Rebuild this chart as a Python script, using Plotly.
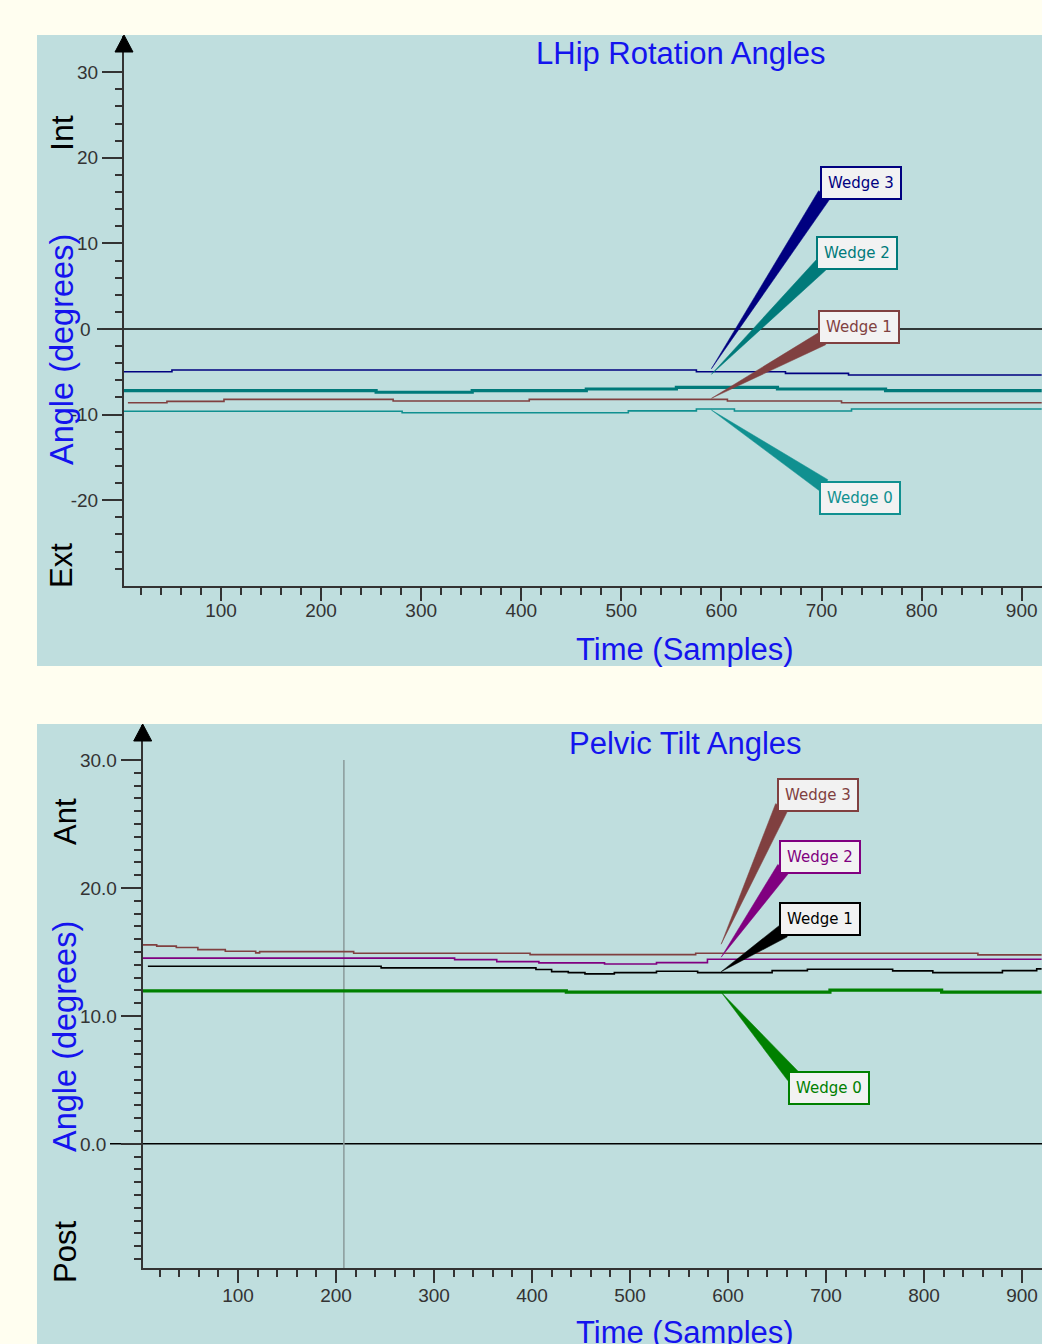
import numpy as np
import plotly.graph_objects as go

# ---------------- data ----------------
X_END = 920  # last sample visible

# LHip Rotation Angles: sample where each level starts, level (deg)
hip_w3_x = [3, 51, 575, 664, 727]
hip_w3_y = [-4.99, -4.79, -4.99, -5.18, -5.37]
hip_w2_x = [3, 255, 351, 465, 555, 656, 764]
hip_w2_y = [-7.21, -7.39, -7.21, -7.01, -6.81, -7.01, -7.21]
hip_w1_x = [7, 46, 103, 272, 408, 606, 720]
hip_w1_y = [-8.62, -8.45, -8.22, -8.41, -8.22, -8.41, -8.62]
hip_w0_x = [3, 281, 507, 575, 613, 730]
hip_w0_y = [-9.61, -9.78, -9.57, -9.35, -9.58, -9.35]

# Pelvic Tilt Angles
pel_w3_x = [3, 17, 37, 59, 87, 118, 122, 218, 398, 567, 855]
pel_w3_y = [15.55, 15.45, 15.34, 15.18, 15.05, 14.92, 15.02, 14.90, 14.79, 14.90, 14.77]
pel_w2_x = [3, 321, 364, 407, 474, 527, 579]
pel_w2_y = [14.51, 14.40, 14.24, 14.14, 14.06, 14.16, 14.43]
pel_w1_x = [8, 246, 404, 420, 437, 454, 484, 527, 569, 645, 681, 768, 809, 880, 915]
pel_w1_y = [13.88, 13.75, 13.62, 13.46, 13.38, 13.28, 13.38, 13.49, 13.38, 13.54,
            13.65, 13.52, 13.38, 13.54, 13.67]
pel_w0_x = [3, 435, 704, 818]
pel_w0_y = [11.95, 11.85, 12.01, 11.85]

CURSOR_SAMPLE = 208
CALLOUT_SAMPLE_TOP = 590
CALLOUT_SAMPLE_BOT = 593

x_tick_vals = [100, 200, 300, 400, 500, 600, 700, 800, 900]
x_tick_text = ["100", "200", "300", "400", "500", "600", "700", "800", "900"]
hip_tick_vals = [-20, -10, 0, 10, 20, 30]
hip_tick_text = ["-20", "-10", "0\u2009\u2009", "10", "20", "30"]
pel_tick_vals = [0, 10, 20, 30]
pel_tick_text = ["0.0\u2007", "10.0", "20.0", "30.0"]

# ---------------- layout constants ----------------
W, H = 1042, 1344
PAGE = "#FFFEF0"
PANEL = "#BFDEDE"
AX = "#333333"
BLUE = "#1414EE"

TOP = dict(xpx=(124.0, 1042.0), ypx=(36.0, 585.8), xr=(3.1, 920.3), yr=(-30.0, 34.23))
BOT = dict(xpx=(142.7, 1042.0), ypx=(725.0, 1268.0), xr=(2.7, 920.4), yr=(-9.7, 32.73))


def d2p(c, x, y):
    sx = (c["xpx"][1] - c["xpx"][0]) / (c["xr"][1] - c["xr"][0])
    sy = (c["ypx"][1] - c["ypx"][0]) / (c["yr"][1] - c["yr"][0])
    return c["xpx"][0] + (x - c["xr"][0]) * sx, c["ypx"][1] - (y - c["yr"][0]) * sy


def p2d(c, px, py):
    sx = (c["xpx"][1] - c["xpx"][0]) / (c["xr"][1] - c["xr"][0])
    sy = (c["ypx"][1] - c["ypx"][0]) / (c["yr"][1] - c["yr"][0])
    return c["xr"][0] + (px - c["xpx"][0]) / sx, c["yr"][0] + (c["ypx"][1] - py) / sy


def step_value(xs, ys, x):
    idx = np.searchsorted(np.array(xs), x, side="right") - 1
    return ys[max(idx, 0)]


fig = go.Figure()

# panels
fig.add_shape(type="rect", xref="paper", yref="paper", x0=37 / W, x1=1.0,
              y0=1 - 666 / H, y1=1 - 35 / H, fillcolor=PANEL, line_width=0, layer="below")
fig.add_shape(type="rect", xref="paper", yref="paper", x0=37 / W, x1=1.0,
              y0=0.0, y1=1 - 724 / H, fillcolor=PANEL, line_width=0, layer="below")


def add_series(xs, ys, color, width, xa, ya, name):
    fig.add_trace(go.Scatter(x=list(xs) + [X_END], y=list(ys) + [ys[-1]], mode="lines",
                             line=dict(color=color, width=width, shape="hv"),
                             xaxis=xa, yaxis=ya, name=name, showlegend=False,
                             hoverinfo="skip"))


top_series = [
    ("Wedge 3", hip_w3_x, hip_w3_y, "#000080", 1.6),
    ("Wedge 2", hip_w2_x, hip_w2_y, "#007A7A", 3.2),
    ("Wedge 1", hip_w1_x, hip_w1_y, "#804040", 1.6),
    ("Wedge 0", hip_w0_x, hip_w0_y, "#109090", 1.6),
]
bot_series = [
    ("Wedge 3", pel_w3_x, pel_w3_y, "#804040", 1.6),
    ("Wedge 2", pel_w2_x, pel_w2_y, "#800080", 1.6),
    ("Wedge 1", pel_w1_x, pel_w1_y, "#000000", 1.6),
    ("Wedge 0", pel_w0_x, pel_w0_y, "#008000", 3.2),
]
for name, xs, ys, col, w in top_series:
    add_series(xs, ys, col, w, "x", "y", name)
for name, xs, ys, col, w in bot_series:
    add_series(xs, ys, col, w, "x2", "y2", name)

# zero lines
fig.add_shape(type="line", xref="paper", yref="y", x0=97 / W, x1=1.0, y0=0, y1=0,
              line=dict(color="#000000", width=1.5), layer="below")
fig.add_shape(type="line", xref="paper", yref="y2", x0=110 / W, x1=1.0, y0=0, y1=0,
              line=dict(color="#000000", width=1.5), layer="below")
# cursor line (bottom)
fig.add_shape(type="line", xref="x2", yref="y2", x0=CURSOR_SAMPLE, x1=CURSOR_SAMPLE,
              y0=BOT["yr"][0], y1=30, line=dict(color="#8A9A9A", width=1.5), layer="below")

# axis arrows
for c in (TOP, BOT):
    ax_x = c["xpx"][0]
    tip_y = c["ypx"][0] - 1
    path = "M {a},{b} L {c_},{d} L {e},{d} Z".format(
        a=ax_x / W, b=1 - tip_y / H, c_=(ax_x - 9) / W, d=1 - (tip_y + 17) / H, e=(ax_x + 9) / W)
    fig.add_shape(type="path", xref="paper", yref="paper", path=path,
                  fillcolor="#000000", line=dict(color="#000000", width=1))

# callouts: box centre in pixels (layout), tip vertical nudge in pixels
top_callouts = [  # name, box centre px, tip nudge px
    ("Wedge 3", (860.5, 182.5), -3),
    ("Wedge 2", (857.0, 253.0), -13),
    ("Wedge 1", (858.5, 326.5), -1),
    ("Wedge 0", (860.0, 497.5), 1),
]
bot_callouts = [
    ("Wedge 3", (818.0, 794.5), -9),
    ("Wedge 2", (819.5, 856.5), -2),
    ("Wedge 1", (819.5, 919.0), -1),
    ("Wedge 0", (829.0, 1088.0), 0),
]
BOX_W, BOX_H = 80, 32


def add_callouts(c, series, callouts, sample, xref, yref):
    cols = {s[0]: s for s in series}
    for name, (cx, cy), nudge in callouts:
        _, xs, ys, col, _w = cols[name]
        tip_val = step_value(xs, ys, sample)
        tx, ty = d2p(c, sample, tip_val)
        ty += nudge
        below = cy > ty
        corner = np.array([cx - BOX_W / 2 + 4, cy - BOX_H / 2 + 4 if below else cy + BOX_H / 2 - 4])
        tip = np.array([tx, ty])
        d = corner - tip
        d = d / np.linalg.norm(d)
        p = np.array([-d[1], d[0]])
        v1 = corner + p * 7
        v2 = corner - p * 7
        pts = [p2d(c, *tip), p2d(c, *v1), p2d(c, *v2)]
        path = "M {},{} L {},{} L {},{} Z".format(*[v for pt in pts for v in pt])
        fig.add_shape(type="path", xref=xref, yref=yref, path=path, fillcolor=col,
                      line=dict(color=col, width=0.5))
        bx, by = p2d(c, cx, cy)
        fig.add_annotation(x=bx, y=by, xref=xref, yref=yref, text=name, showarrow=False,
                           xanchor="center", yanchor="middle", width=BOX_W - 8, height=BOX_H - 8,
                           borderpad=3, borderwidth=2, bordercolor=col, bgcolor="#F2F2F2",
                           font=dict(family="DejaVu Sans", size=15, color=col))


add_callouts(TOP, top_series, top_callouts, CALLOUT_SAMPLE_TOP, "x", "y")
add_callouts(BOT, bot_series, bot_callouts, CALLOUT_SAMPLE_BOT, "x2", "y2")


def text(px, py, s, color, size, angle=0):
    fig.add_annotation(x=px / W, y=1 - py / H, xref="paper", yref="paper", text=s,
                       showarrow=False, xanchor="center", yanchor="middle", textangle=angle,
                       font=dict(family="Liberation Sans", size=size, color=color))


text(681, 54, "LHip Rotation Angles", BLUE, 31)
text(685, 650, "Time (Samples)", BLUE, 31)
text(62, 350, "Angle (degrees)", BLUE, 32.5, -90)
text(62, 133, "Int", "#000000", 32, -90)
text(62, 566, "Ext", "#000000", 31, -90)
text(685, 743, "Pelvic Tilt Angles", BLUE, 31)
text(685, 1332, "Time (Samples)", BLUE, 31)
text(65, 1037, "Angle (degrees)", BLUE, 32.5, -90)
text(65, 822, "Ant", "#000000", 31, -90)
text(65, 1252, "Post", "#000000", 31, -90)

tickfont = dict(family="Liberation Sans", size=19, color=AX)


def xaxis_cfg(c, standoff):
    return dict(domain=[c["xpx"][0] / W, c["xpx"][1] / W], range=list(c["xr"]),
                tickmode="array", tickvals=x_tick_vals, ticktext=x_tick_text,
                ticks="outside", ticklen=13, tickwidth=2, tickcolor=AX, tickfont=tickfont,
                ticklabelstandoff=standoff,
                minor=dict(tickmode="array", tickvals=list(range(20, 920, 20)),
                           ticks="outside", ticklen=7, tickwidth=2, tickcolor=AX),
                showline=True, linecolor=AX, linewidth=2, showgrid=False, zeroline=False,
                fixedrange=True)


def yaxis_cfg(c, vals, txt, minor_vals):
    return dict(domain=[1 - c["ypx"][1] / H, 1 - c["ypx"][0] / H], range=list(c["yr"]),
                tickmode="array", tickvals=vals, ticktext=txt,
                ticks="outside", ticklen=20, tickwidth=2, tickcolor=AX, tickfont=tickfont,
                minor=dict(tickmode="array", tickvals=minor_vals,
                           ticks="outside", ticklen=7, tickwidth=2, tickcolor=AX),
                showline=True, linecolor=AX, linewidth=2, showgrid=False, zeroline=False,
                fixedrange=True)


fig.update_layout(
    width=W, height=H, margin=dict(l=0, r=0, t=0, b=0),
    paper_bgcolor=PAGE, plot_bgcolor=PANEL, showlegend=False,
    xaxis=dict(**xaxis_cfg(TOP, -7), anchor="y"),
    yaxis=dict(**yaxis_cfg(TOP, hip_tick_vals, hip_tick_text, list(range(-28, 30, 2))), anchor="x"),
    xaxis2=dict(**xaxis_cfg(BOT, -4), anchor="y2"),
    yaxis2=dict(**yaxis_cfg(BOT, pel_tick_vals, pel_tick_text, list(range(-9, 30))), anchor="x2"),
)

fig.write_html("out.html", config={"displayModeBar": False},
               post_script="document.body.style.margin='0';document.body.style.overflow='hidden';")
